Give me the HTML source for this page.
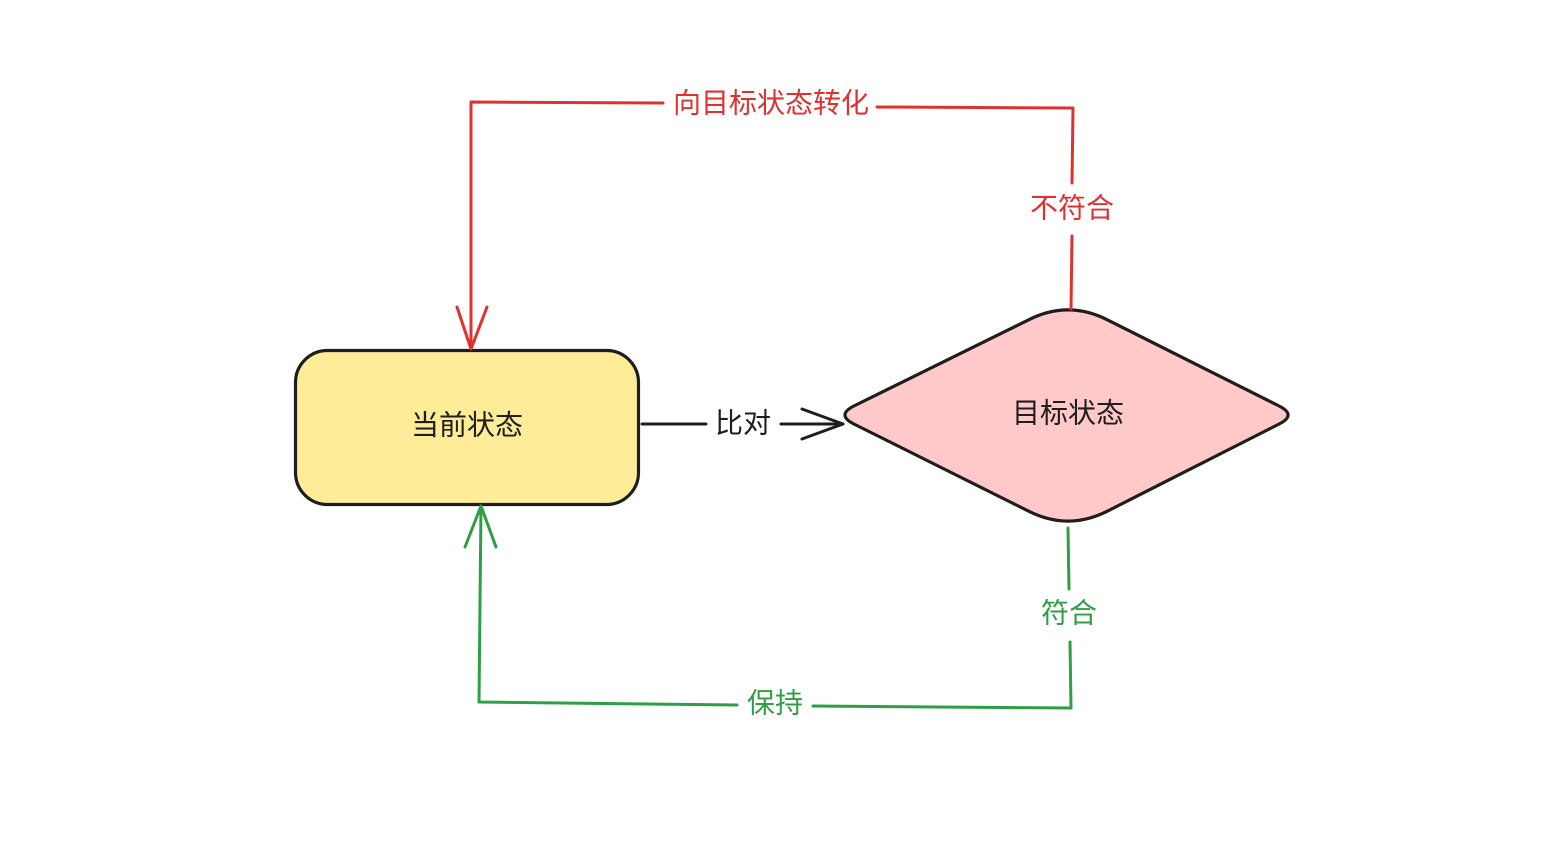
<!DOCTYPE html>
<html>
<head>
<meta charset="utf-8">
<style>
  html, body { margin: 0; padding: 0; background: #ffffff; }
  body { width: 1559px; height: 844px; overflow: hidden; }
  svg { display: block; }
  text { font-family: "Liberation Sans", "Noto Sans CJK SC", sans-serif; font-size: 28px; }
</style>
</head>
<body>
<svg width="1559" height="844" viewBox="0 0 1559 844" xmlns="http://www.w3.org/2000/svg">
  <rect x="0" y="0" width="1559" height="844" fill="#ffffff"/>

  <!-- Current state rounded rectangle -->
  <rect x="295.5" y="350.5" width="343" height="154" rx="32" ry="32" fill="#ffec99" stroke="#1e1e1e" stroke-width="3.2"/>
  <text x="467" y="425" text-anchor="middle" dominant-baseline="central" fill="#1e1e1e">当前状态</text>

  <!-- Target state diamond -->
  <path d="M 1107.3 319.8 L 1279.1 406 Q 1297 415 1279.1 424 L 1107.3 511.2 Q 1068 531 1028.7 511.2 L 853.9 424 Q 836 415 853.9 406 L 1028.7 319.8 Q 1068 300 1107.3 319.8 Z"
        fill="#ffc9c9" stroke="#1e1e1e" stroke-width="3.2" stroke-linejoin="round"/>
  <text x="1068" y="413" text-anchor="middle" dominant-baseline="central" fill="#1e1e1e">目标状态</text>

  <!-- Black compare arrow -->
  <g stroke="#1e1e1e" stroke-width="3" fill="none" stroke-linecap="round" stroke-linejoin="round">
    <line x1="642" y1="424" x2="706" y2="424"/>
    <line x1="781" y1="424" x2="843" y2="424"/>
    <polyline points="802,409 843,424 802,439"/>
  </g>
  <text x="743" y="423" text-anchor="middle" dominant-baseline="central" fill="#1e1e1e">比对</text>

  <!-- Red loop -->
  <g stroke="#e03131" stroke-width="3" fill="none" stroke-linecap="round" stroke-linejoin="round">
    <polyline points="1071,309 1072,236"/>
    <polyline points="1072,183 1073,108 877,107"/>
    <polyline points="663,103 471,102 471,349"/>
    <polyline points="457,307 471,349 487,307"/>
  </g>
  <text x="771" y="103" text-anchor="middle" dominant-baseline="central" fill="#e03131">向目标状态转化</text>
  <text x="1072" y="208" text-anchor="middle" dominant-baseline="central" fill="#e03131">不符合</text>

  <!-- Green loop -->
  <g stroke="#2f9e44" stroke-width="3" fill="none" stroke-linecap="round" stroke-linejoin="round">
    <polyline points="1068,528 1069,589"/>
    <polyline points="1070,642 1071,708 813,706"/>
    <polyline points="737,705 479,702 481,506"/>
    <polyline points="465,547 481,506 496,547"/>
  </g>
  <text x="1069" y="613" text-anchor="middle" dominant-baseline="central" fill="#2f9e44">符合</text>
  <text x="775" y="703" text-anchor="middle" dominant-baseline="central" fill="#2f9e44">保持</text>
</svg>
</body>
</html>
